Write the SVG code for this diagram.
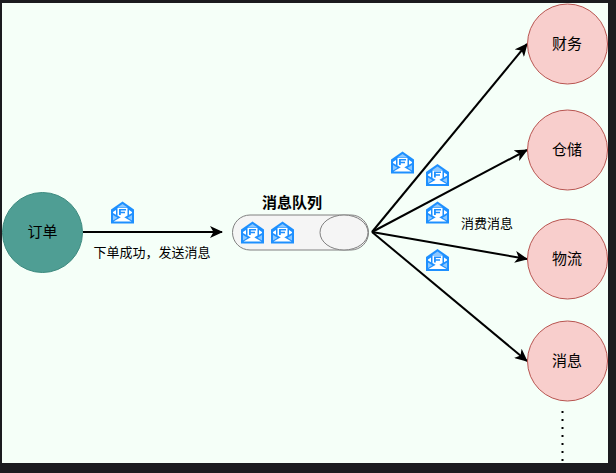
<svg xmlns="http://www.w3.org/2000/svg" width="616" height="473" viewBox="0 0 616 473">
<style>
text{font-family:"Liberation Sans","Noto Sans CJK SC",sans-serif;fill:#000;text-anchor:middle}
.n{font-size:15px}
.s{font-size:13px}
.red{fill:#f8cecc;stroke:#b85450;stroke-width:1}
.c{fill:none;stroke:#000;stroke-width:2;marker-end:url(#a)}
</style>
<defs>
<marker id="a" markerUnits="userSpaceOnUse" markerWidth="14" markerHeight="12" refX="12" refY="6" orient="auto"><path d="M0 0L13 6L0 12L3.500 6Z" fill="#000"/></marker>
<g id="m">
<path d="M11.500 0L23 8V22H0V8Z" fill="#1e90ff"/>
<path d="M11.500 2.500L16.500 6H6.500Z" fill="#8cc8ff"/>
<path d="M6.500 6.500H16.500V14L11.500 17L6.500 14Z" fill="#fff"/>
<path d="M8 7.500H15V9H9.800V10.200H14V11.700H9.800V13.500H8Z" fill="#1e90ff"/>
<path d="M2.500 20L11.500 14.800L20.500 20Z" fill="#fff"/>
<path d="M2 10.500L5 8.500V13.200L2 11.500Z" fill="#fff"/>
<path d="M21 10.500L18 8.500V13.200L21 11.500Z" fill="#fff"/>
<path d="M2 13.500L6.500 16.300L2 19Z" fill="#8cc8ff"/>
<path d="M21 13.500L16.500 16.300L21 19Z" fill="#8cc8ff"/>
</g>
</defs>
<rect width="616" height="473" fill="#1b1b1f"/>
<rect x="2" y="3" width="606" height="460" fill="#f5fff8"/>
<g id="connectors">
<path class="c" d="M83 232H222"/>
<path class="c" d="M372 232L527 44"/>
<path class="c" d="M372 232L527 150"/>
<path class="c" d="M372 232L527 259"/>
<path class="c" d="M372 232L527 361"/>
<path d="M562.500 411V463" stroke="#000" stroke-width="2" stroke-dasharray="2 6" fill="none"/>
</g>
<g id="order">
<circle cx="42.500" cy="232.500" r="40" fill="#4f9e94" stroke="#3d8a7f"/>
<text class="n" x="42.500" y="237">订单</text>
</g>
<g id="send-label"><use href="#m" x="111" y="201.500"/><text class="s" x="152" y="256.500">下单成功，发送消息</text></g>
<g id="queue">
<text x="292" y="208" font-size="15" font-weight="bold">消息队列</text>
<rect x="232.500" y="215" width="136" height="35" rx="17.500" fill="#f5f5f5" stroke="#808080"/>
<ellipse cx="344" cy="232.500" rx="24" ry="17.500" fill="#f5f5f5" stroke="#808080"/>
<use href="#m" x="241" y="221.500"/>
<use href="#m" x="271" y="221.500"/>
</g>
<g id="consume-label">
<use href="#m" x="391" y="151.500"/>
<use href="#m" x="426" y="164"/>
<use href="#m" x="426" y="201.500"/>
<use href="#m" x="426" y="249"/>
<text class="s" x="487" y="228">消费消息</text>
</g>
<g id="finance"><circle class="red" cx="567.500" cy="44" r="40"/><text class="n" x="567" y="49">财务</text></g>
<g id="warehouse"><circle class="red" cx="567.500" cy="150" r="40"/><text class="n" x="567" y="155">仓储</text></g>
<g id="logistics"><circle class="red" cx="567.500" cy="259" r="40"/><text class="n" x="567" y="264">物流</text></g>
<g id="message"><circle class="red" cx="567.500" cy="361" r="40"/><text class="n" x="567" y="366">消息</text></g>
</svg>
